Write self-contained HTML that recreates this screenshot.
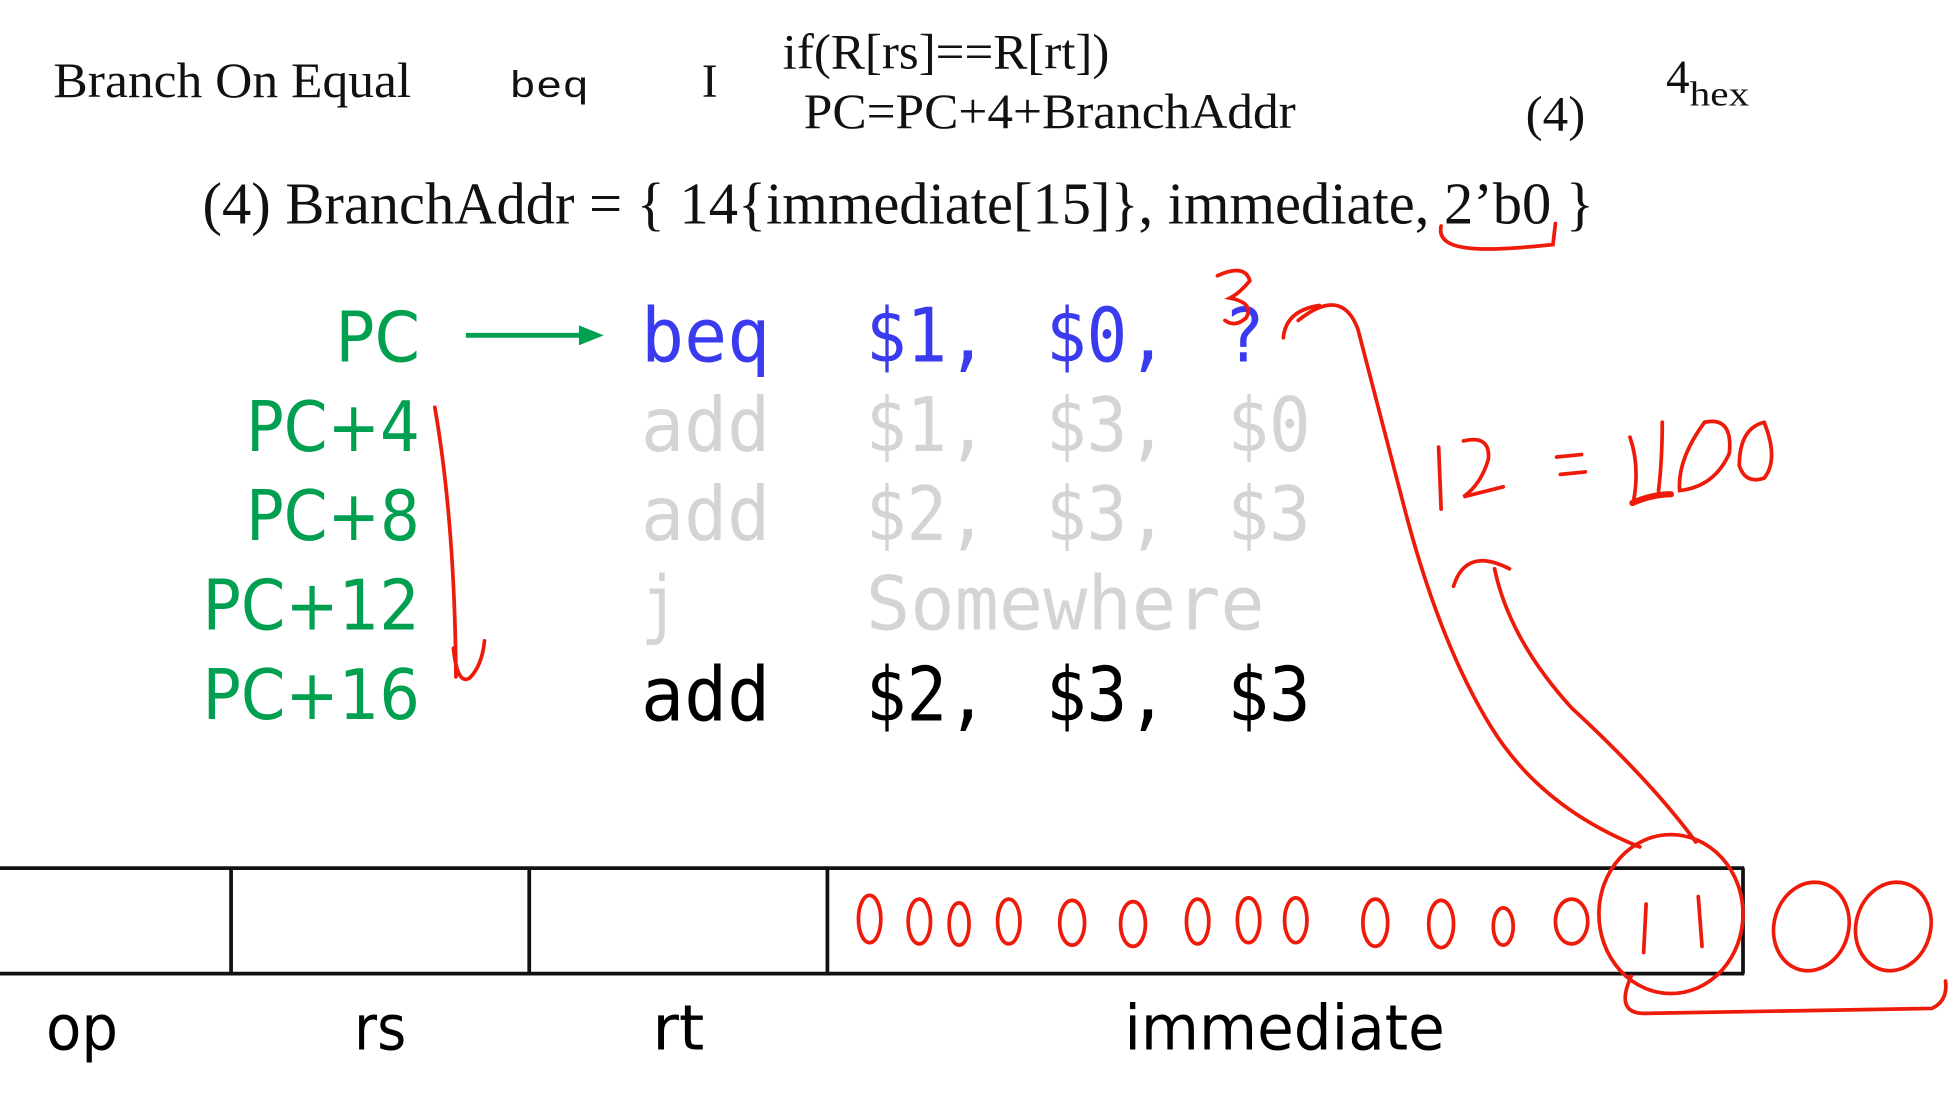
<!DOCTYPE html>
<html><head><meta charset="utf-8"><style>html,body{margin:0;padding:0;background:#fff}svg{display:block}</style></head>
<body>
<svg width="1948" height="1114" viewBox="0 0 1568 897" preserveAspectRatio="none" xmlns="http://www.w3.org/2000/svg">
<rect width="1568" height="897" fill="#fff"/>
<g font-family="'Liberation Serif', serif" fill="#111">
<text x="43" y="78" font-size="40" textLength="288" lengthAdjust="spacingAndGlyphs">Branch On Equal</text>
<text x="410" y="78" font-size="30" font-family="'Liberation Mono', monospace" textLength="64" lengthAdjust="spacingAndGlyphs">beq</text>
<text x="565" y="78" font-size="38">I</text>
<text x="630" y="55" font-size="40" textLength="263" lengthAdjust="spacingAndGlyphs">if(R[rs]==R[rt])</text>
<text x="647" y="103" font-size="40" textLength="396" lengthAdjust="spacingAndGlyphs">PC=PC+4+BranchAddr</text>
<text x="1228" y="105" font-size="40" textLength="48" lengthAdjust="spacingAndGlyphs">(4)</text>
<text x="1341" y="75" font-size="38">4</text>
<text x="1360" y="85" font-size="28" textLength="48" lengthAdjust="spacingAndGlyphs">hex</text>
<text x="163" y="180" font-size="48" textLength="1120" lengthAdjust="spacingAndGlyphs">(4) BranchAddr = { 14{immediate[15]}, immediate, 2’b0 }</text>
</g>
<g font-family="'DejaVu Sans Mono', 'Liberation Mono', monospace" font-size="60">
<g fill="#3a3aee">
<text x="516" y="291" textLength="104" lengthAdjust="spacingAndGlyphs">beq</text>
<text x="697" y="291" textLength="98" lengthAdjust="spacingAndGlyphs">$1,</text>
<text x="842" y="291" textLength="98" lengthAdjust="spacingAndGlyphs">$0,</text>
<text x="985" y="291" textLength="33" lengthAdjust="spacingAndGlyphs">?</text>
</g>
<g fill="#d4d4d4">
<text x="516" y="363" textLength="104" lengthAdjust="spacingAndGlyphs">add</text>
<text x="697" y="363" textLength="98" lengthAdjust="spacingAndGlyphs">$1,</text>
<text x="842" y="363" textLength="98" lengthAdjust="spacingAndGlyphs">$3,</text>
<text x="988" y="363" textLength="67" lengthAdjust="spacingAndGlyphs">$0</text>
<text x="516" y="435" textLength="104" lengthAdjust="spacingAndGlyphs">add</text>
<text x="697" y="435" textLength="98" lengthAdjust="spacingAndGlyphs">$2,</text>
<text x="842" y="435" textLength="98" lengthAdjust="spacingAndGlyphs">$3,</text>
<text x="988" y="435" textLength="67" lengthAdjust="spacingAndGlyphs">$3</text>
<text x="516" y="507" textLength="30" lengthAdjust="spacingAndGlyphs">j</text>
<text x="697" y="507" textLength="321" lengthAdjust="spacingAndGlyphs">Somewhere</text>
</g>
<g fill="#000">
<text x="516" y="580" textLength="104" lengthAdjust="spacingAndGlyphs">add</text>
<text x="697" y="580" textLength="98" lengthAdjust="spacingAndGlyphs">$2,</text>
<text x="842" y="580" textLength="98" lengthAdjust="spacingAndGlyphs">$3,</text>
<text x="988" y="580" textLength="67" lengthAdjust="spacingAndGlyphs">$3</text>
</g>
</g>
<g font-family="'DejaVu Sans', 'Liberation Sans', sans-serif" font-size="56" fill="#00a050" text-anchor="end">
<text x="338" y="291" textLength="68" lengthAdjust="spacingAndGlyphs">PC</text>
<text x="338" y="363" textLength="140" lengthAdjust="spacingAndGlyphs">PC+4</text>
<text x="338" y="435" textLength="140" lengthAdjust="spacingAndGlyphs">PC+8</text>
<text x="338" y="507" textLength="175" lengthAdjust="spacingAndGlyphs">PC+12</text>
<text x="338" y="579" textLength="175" lengthAdjust="spacingAndGlyphs">PC+16</text>
</g>
<line x1="375" y1="270" x2="470" y2="270" stroke="#00a050" stroke-width="4"/>
<polygon points="486,270 466,262 466,278" fill="#00a050"/>
<g stroke="#111" stroke-width="3" fill="none">
<line x1="0" y1="699" x2="1404" y2="699"/>
<line x1="0" y1="784" x2="1404" y2="784"/>
<line x1="186" y1="699" x2="186" y2="784"/>
<line x1="426" y1="699" x2="426" y2="784"/>
<line x1="666" y1="699" x2="666" y2="784"/>
<line x1="1403" y1="699" x2="1403" y2="784"/>
</g>
<g font-family="'DejaVu Sans', 'Liberation Sans', sans-serif" font-size="50" fill="#000">
<text x="37" y="845" textLength="58" lengthAdjust="spacingAndGlyphs">op</text>
<text x="285" y="845" textLength="42" lengthAdjust="spacingAndGlyphs">rs</text>
<text x="525" y="845" textLength="42" lengthAdjust="spacingAndGlyphs">rt</text>
<text x="905" y="845" textLength="258" lengthAdjust="spacingAndGlyphs">immediate</text>
</g>
<g stroke="#ee1a0a" stroke-width="3" fill="none" stroke-linecap="round">
<path d="M1160,182 C1155,205 1200,202 1250,197 L1252,180"/>
<path d="M980,222 Q1002,212 1006,226 Q998,236 990,240 Q1010,244 1003,256 Q994,264 986,258"/>
<path d="M1062,246 Q1035,250 1033,272"/>
<path d="M1045,258 Q1080,230 1093,265 Q1110,330 1132,415 Q1160,520 1200,585 Q1240,650 1320,682"/>
<path d="M1170,472 Q1180,440 1215,458"/>
<path d="M1203,458 Q1215,515 1265,570 Q1330,630 1365,678"/>
<path d="M350,328 Q366,420 367,545"/>
<path d="M365,522 Q368,552 378,546 Q388,536 390,516"/>
<path d="M1158,360 L1160,410 M1178,355 Q1200,350 1198,370 Q1192,390 1178,400 L1210,392"/>
<path d="M1253,368 L1273,366 M1256,382 L1276,380"/>
<path d="M1312,352 Q1320,375 1315,403 M1338,340 Q1338,370 1335,395 M1372,340 Q1350,370 1352,395 Q1380,392 1392,365 Q1395,335 1372,340 M1420,340 Q1400,345 1400,375 Q1405,390 1420,385 Q1432,370 1420,340"/>
<path d="M1314,405 Q1330,398 1345,398" stroke-width="5"/>
<ellipse cx="1345" cy="736" rx="58" ry="64"/>
<path d="M1325,728 L1323,767 M1367,722 L1370,762"/>
<ellipse cx="1458" cy="746" rx="30" ry="36" transform="rotate(15 1458 746)"/>
<ellipse cx="1524" cy="746" rx="30" ry="36" transform="rotate(15 1524 746)"/>
<path d="M1313,786 Q1300,815 1322,816 L1555,812 Q1568,806 1566,790"/>
<ellipse cx="700" cy="740" rx="9" ry="19"/>
<ellipse cx="740" cy="742" rx="9" ry="18"/>
<ellipse cx="772" cy="744" rx="8" ry="17"/>
<ellipse cx="812" cy="742" rx="9" ry="18"/>
<ellipse cx="863" cy="743" rx="10" ry="18"/>
<ellipse cx="912" cy="744" rx="10" ry="18"/>
<ellipse cx="964" cy="742" rx="9" ry="18"/>
<ellipse cx="1005" cy="741" rx="9" ry="18"/>
<ellipse cx="1043" cy="741" rx="9" ry="18"/>
<ellipse cx="1107" cy="743" rx="10" ry="19"/>
<ellipse cx="1160" cy="744" rx="10" ry="19"/>
<ellipse cx="1210" cy="746" rx="8" ry="15"/>
<ellipse cx="1265" cy="742" rx="13" ry="18"/>
</g>
</svg>
</body></html>
